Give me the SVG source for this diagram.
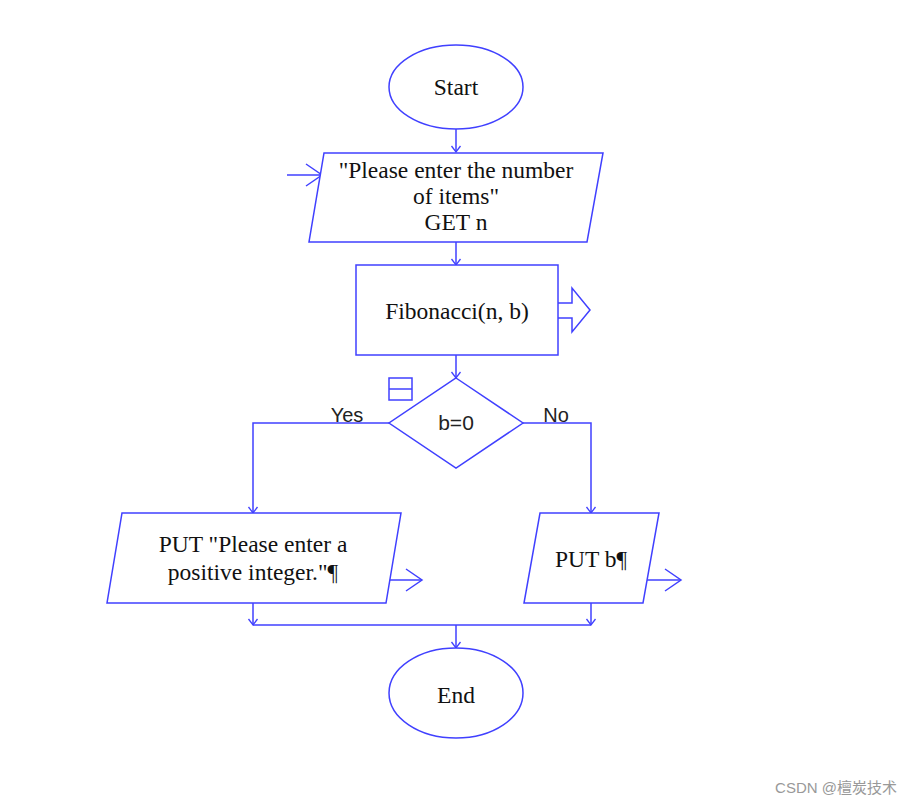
<svg xmlns="http://www.w3.org/2000/svg" width="912" height="805" viewBox="0 0 912 805">
<style>
.s{fill:#fff;stroke:#4040ff;stroke-width:1.5}
.n{fill:none;stroke:#4040ff;stroke-width:1.5}
.t{font-family:"Liberation Serif","Times New Roman",serif;font-size:23.5px;fill:#111;text-anchor:middle}
.a{font-family:"Liberation Sans",Arial,sans-serif;font-size:20px;fill:#222;text-anchor:middle}
</style>
<defs>
<marker id="m" markerUnits="userSpaceOnUse" markerWidth="12" markerHeight="12" viewBox="-8 -6 10 12" refX="0" refY="0" orient="auto" overflow="visible">
<path d="M-6,-4.5 L0,0 L-6,4.5" fill="none" stroke="#4040ff" stroke-width="1.3"/>
</marker>
<marker id="b" markerUnits="userSpaceOnUse" markerWidth="24" markerHeight="28" viewBox="-20 -14 22 28" refX="0" refY="0" orient="auto" overflow="visible">
<path d="M-16,-11 L0,0 L-16,11" fill="none" stroke="#4040ff" stroke-width="1.5"/>
</marker>
</defs>
<rect width="912" height="805" fill="#fff"/>
<g id="connectors">
<line class="n" x1="456" y1="129" x2="456" y2="152" marker-end="url(#m)"/>
<line class="n" x1="287" y1="175" x2="322" y2="175" marker-end="url(#b)"/>
<line class="n" x1="456" y1="242" x2="456" y2="265" marker-end="url(#m)"/>
<line class="n" x1="456" y1="355" x2="456" y2="378" marker-end="url(#m)"/>
<polyline class="n" points="389,423 253,423 253,513" marker-end="url(#m)"/>
<polyline class="n" points="523,423 591,423 591,513" marker-end="url(#m)"/>
<line class="n" x1="386" y1="580" x2="422" y2="580" marker-end="url(#b)"/>
<line class="n" x1="646" y1="580" x2="681" y2="580" marker-end="url(#b)"/>
<line class="n" x1="253" y1="603" x2="253" y2="625" marker-end="url(#m)"/>
<line class="n" x1="591" y1="603" x2="591" y2="625" marker-end="url(#m)"/>
<line class="n" x1="253" y1="625" x2="591" y2="625"/>
<line class="n" x1="456" y1="625" x2="456" y2="648" marker-end="url(#m)"/>
<text class="a" x="347" y="422">Yes</text>
<text class="a" x="556" y="422">No</text>
</g>
<g id="start">
<ellipse class="s" cx="456" cy="87" rx="67" ry="42"/>
<text class="t" x="456" y="95">Start</text>
</g>
<g id="input">
<polygon class="s" points="324,153 603,153 587,242 309,242"/>
<text class="t" x="456" y="178">"Please enter the number</text>
<text class="t" x="456" y="204">of items"</text>
<text class="t" x="456" y="230">GET n</text>
</g>
<g id="fib">
<rect class="s" x="356" y="265" width="202" height="90"/>
<path class="n" d="M558,303 L572,303 L572,288 L590,310 L572,332 L572,318 L558,318"/>
<text class="t" x="457" y="319">Fibonacci(n, b)</text>
</g>
<g id="decision">
<polygon class="s" points="456,378 523,423 456,468 389,423"/>
<rect class="n" x="389" y="378" width="23" height="22"/>
<line class="n" x1="389" y1="389" x2="412" y2="389"/>
<text class="a" x="456" y="430" style="font-size:21px">b=0</text>
</g>
<g id="putmsg">
<polygon class="s" points="122,513 401,513 386,603 107,603"/>
<text class="t" x="253" y="552">PUT "Please enter a</text>
<text class="t" x="253" y="580">positive integer."¶</text>
</g>
<g id="putb">
<polygon class="s" points="540,513 659,513 643,603 524,603"/>
<text class="t" x="591" y="567">PUT b¶</text>
</g>
<g id="end">
<ellipse class="s" cx="456" cy="693" rx="67" ry="45"/>
<text class="t" x="456" y="703">End</text>
</g>
<text x="897" y="793" style="font-family:'Liberation Sans','Noto Sans CJK SC',sans-serif;font-size:15px;fill:#999;text-anchor:end">CSDN @檀炭技术</text>
</svg>
